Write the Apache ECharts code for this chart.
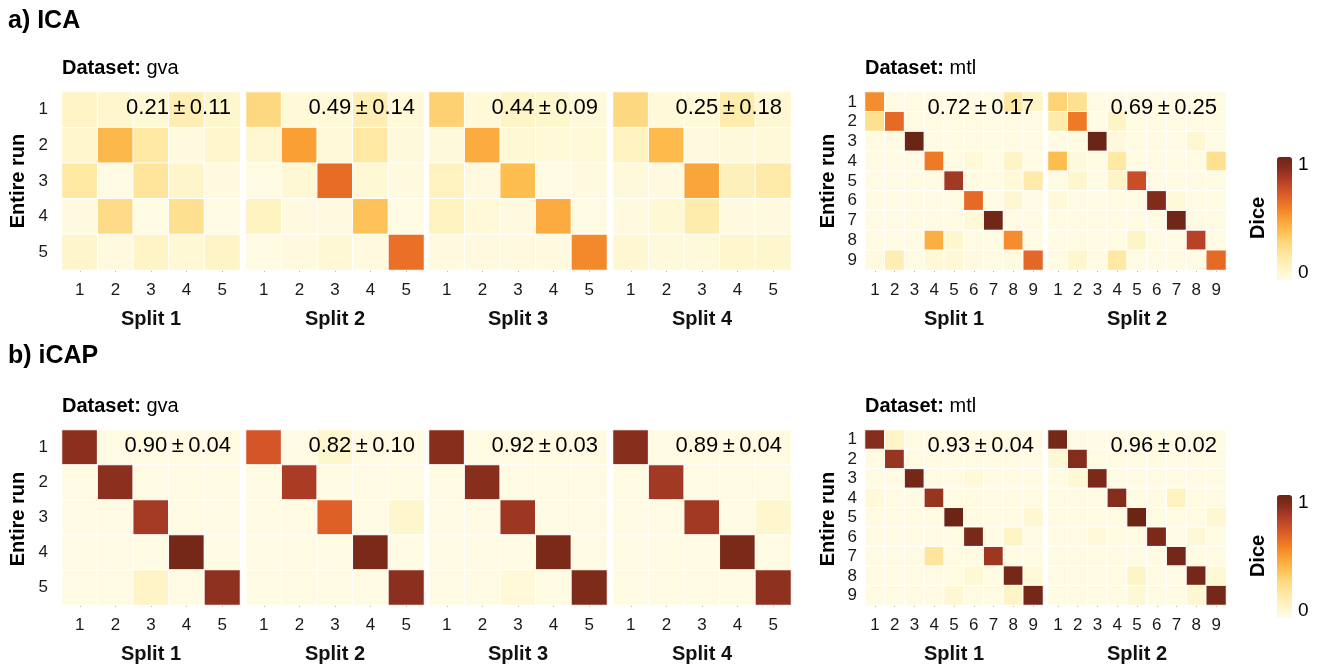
<!DOCTYPE html>
<html><head><meta charset="utf-8">
<script src="https://cdn.jsdelivr.net/npm/echarts@6/dist/echarts.min.js"></script>
<style>html,body{margin:0;padding:0;background:#fff}#c{width:1317px;height:665px}</style>
</head><body><div id="c"></div>
<script>
// ---------- data ----------
const gvaTicks = ['1','2','3','4','5'];
const mtlTicks = ['1','2','3','4','5','6','7','8','9'];
const gvaSplitNames = ['Split 1','Split 2','Split 3','Split 4'];
const mtlSplitNames = ['Split 1','Split 2'];

const icaGva1 = [
 [0.10,0.08,0.06,0.15,0.08],
 [0.08,0.42,0.20,0.03,0.08],
 [0.20,0.02,0.22,0.09,0.03],
 [0.03,0.28,0.02,0.25,0.02],
 [0.09,0.03,0.10,0.06,0.10]];
const icaGva2 = [
 [0.30,0.05,0.05,0.15,0.05],
 [0.07,0.50,0.05,0.20,0.04],
 [0.02,0.06,0.64,0.06,0.03],
 [0.12,0.03,0.03,0.38,0.02],
 [0.02,0.03,0.06,0.03,0.63]];
const icaGva3 = [
 [0.33,0.05,0.10,0.08,0.04],
 [0.04,0.46,0.06,0.05,0.05],
 [0.12,0.03,0.40,0.02,0.03],
 [0.12,0.05,0.03,0.46,0.02],
 [0.03,0.03,0.03,0.03,0.56]];
const icaGva4 = [
 [0.30,0.05,0.05,0.17,0.07],
 [0.12,0.41,0.03,0.04,0.05],
 [0.04,0.03,0.48,0.13,0.18],
 [0.03,0.06,0.17,0.03,0.03],
 [0.07,0.04,0.04,0.08,0.08]];
const icaMtl1 = [
 [0.55,0.02,0.02,0.02,0.02,0.02,0.02,0.20,0.10],
 [0.25,0.65,0.02,0.02,0.02,0.02,0.02,0.02,0.02],
 [0.02,0.02,1.00,0.02,0.02,0.02,0.02,0.02,0.02],
 [0.02,0.02,0.02,0.60,0.02,0.05,0.02,0.10,0.02],
 [0.02,0.02,0.02,0.02,0.85,0.02,0.02,0.05,0.18],
 [0.02,0.02,0.02,0.02,0.02,0.65,0.02,0.07,0.02],
 [0.02,0.02,0.02,0.02,0.02,0.05,0.98,0.02,0.02],
 [0.02,0.02,0.02,0.45,0.08,0.02,0.02,0.55,0.02],
 [0.03,0.15,0.02,0.06,0.06,0.03,0.02,0.03,0.66]];
const icaMtl2 = [
 [0.32,0.25,0.02,0.02,0.02,0.02,0.02,0.02,0.02],
 [0.18,0.60,0.02,0.10,0.02,0.02,0.02,0.02,0.02],
 [0.02,0.02,1.00,0.04,0.02,0.02,0.02,0.07,0.02],
 [0.40,0.04,0.02,0.20,0.02,0.02,0.02,0.02,0.25],
 [0.02,0.08,0.02,0.10,0.75,0.02,0.02,0.02,0.02],
 [0.05,0.02,0.02,0.02,0.02,0.93,0.05,0.02,0.02],
 [0.02,0.02,0.02,0.02,0.02,0.02,0.98,0.02,0.02],
 [0.02,0.02,0.02,0.02,0.10,0.02,0.02,0.80,0.02],
 [0.02,0.08,0.02,0.20,0.02,0.02,0.02,0.02,0.65]];
const icapGva1 = [
 [0.90,0.02,0.02,0.02,0.02],
 [0.02,0.90,0.02,0.02,0.02],
 [0.02,0.02,0.84,0.02,0.02],
 [0.02,0.02,0.02,0.97,0.02],
 [0.02,0.02,0.10,0.02,0.89]];
const icapGva2 = [
 [0.72,0.02,0.08,0.02,0.02],
 [0.02,0.83,0.02,0.02,0.02],
 [0.02,0.02,0.68,0.02,0.08],
 [0.02,0.02,0.02,0.95,0.02],
 [0.02,0.02,0.02,0.02,0.90]];
const icapGva3 = [
 [0.91,0.02,0.02,0.02,0.02],
 [0.02,0.91,0.02,0.02,0.02],
 [0.02,0.02,0.86,0.02,0.02],
 [0.02,0.02,0.02,0.95,0.02],
 [0.02,0.02,0.05,0.02,0.94]];
const icapGva4 = [
 [0.91,0.02,0.02,0.02,0.02],
 [0.02,0.85,0.02,0.02,0.02],
 [0.02,0.02,0.85,0.02,0.08],
 [0.02,0.02,0.02,0.95,0.02],
 [0.02,0.02,0.02,0.02,0.89]];
const icapMtl1 = [
 [0.92,0.10,0.02,0.02,0.02,0.02,0.02,0.02,0.02],
 [0.02,0.87,0.02,0.02,0.02,0.02,0.02,0.02,0.02],
 [0.02,0.02,0.97,0.02,0.02,0.05,0.02,0.02,0.02],
 [0.05,0.02,0.02,0.87,0.02,0.02,0.02,0.02,0.02],
 [0.02,0.02,0.02,0.02,1.00,0.02,0.02,0.02,0.07],
 [0.02,0.02,0.02,0.02,0.02,0.96,0.02,0.10,0.02],
 [0.02,0.02,0.02,0.22,0.02,0.02,0.86,0.02,0.02],
 [0.02,0.02,0.02,0.02,0.02,0.06,0.02,0.97,0.05],
 [0.02,0.02,0.02,0.02,0.07,0.02,0.02,0.10,0.97]];
const icapMtl2 = [
 [0.97,0.02,0.02,0.02,0.02,0.02,0.02,0.02,0.02],
 [0.06,0.92,0.02,0.02,0.02,0.02,0.02,0.02,0.02],
 [0.02,0.06,0.95,0.02,0.02,0.02,0.02,0.02,0.02],
 [0.02,0.02,0.02,0.92,0.02,0.02,0.12,0.02,0.02],
 [0.02,0.02,0.02,0.02,1.00,0.02,0.02,0.02,0.07],
 [0.02,0.02,0.05,0.02,0.02,0.95,0.02,0.06,0.02],
 [0.02,0.02,0.02,0.02,0.02,0.02,0.97,0.02,0.02],
 [0.02,0.02,0.02,0.02,0.10,0.02,0.02,0.97,0.06],
 [0.02,0.02,0.02,0.02,0.06,0.02,0.02,0.07,0.97]];

const icaGvaStats  = ['0.21 ± 0.11','0.49 ± 0.14','0.44 ± 0.09','0.25 ± 0.18'];
const icaMtlStats  = ['0.72 ± 0.17','0.69 ± 0.25'];
const icapGvaStats = ['0.90 ± 0.04','0.82 ± 0.10','0.92 ± 0.03','0.89 ± 0.04'];
const icapMtlStats = ['0.93 ± 0.04','0.96 ± 0.02'];
const colorbarTicks = ['1','0'];

// ---------- layout ----------
const FONT = '"Liberation Sans", Arial, Helvetica, sans-serif';
const palette = ['#FFFDE9','#FEF4C6','#FEE8A2','#FDD880','#FDBE4F','#F99F34','#EF7A25','#DB5A27','#B74228','#8B2F1E','#6B2515'];
const gvaLefts = [62, 246, 429, 613];
const mtlLefts = [865, 1048];
const rowTops = [92, 430];
const SIZE = 178;

const grids = [], xAxes = [], yAxes = [], series = [], graphics = [];
const rowSeries = [[], []];

function addPanel(row, left, ticks, matrix, splitName, showY, stat, yLabelMargin) {
  const idx = grids.length;
  const top = rowTops[row];
  grids.push({left: left, top: top, width: SIZE, height: SIZE});
  xAxes.push({
    type: 'category', gridIndex: idx, data: ticks, position: 'bottom',
    axisLine: {show: false}, splitLine: {show: false},
    axisTick: {show: true, alignWithLabel: true, interval: 0, length: 2, lineStyle: {color: '#bbb'}},
    axisLabel: {interval: 0, fontSize: 17, color: '#1a1a1a', margin: 12, fontFamily: FONT},
    name: splitName, nameLocation: 'middle', nameGap: 39,
    nameTextStyle: {fontSize: 20, fontWeight: 'bold', color: '#111', fontFamily: FONT}
  });
  yAxes.push({
    type: 'category', gridIndex: idx, data: ticks, inverse: true,
    axisLine: {show: false}, axisTick: {show: false}, splitLine: {show: false},
    axisLabel: {show: showY, interval: 0, fontSize: 17, color: '#1a1a1a', margin: yLabelMargin, fontFamily: FONT}
  });
  const data = [];
  matrix.forEach((r, ri) => r.forEach((v, ci) => data.push([ci, ri, v])));
  rowSeries[row].push(series.length);
  series.push({
    type: 'heatmap', xAxisIndex: idx, yAxisIndex: idx, data: data,
    itemStyle: {borderColor: '#ffffff', borderWidth: 1},
    emphasis: {disabled: true}, label: {show: false}
  });
  graphics.push({
    type: 'text', x: left + SIZE - 9, y: top + 16, silent: true, z: 100,
    style: {text: stat.replace(' ± ', '\u2009±\u2009'), font: '22px ' + FONT, fill: '#000',
            textAlign: 'right', textVerticalAlign: 'middle'}
  });
}

const icaGva = [icaGva1, icaGva2, icaGva3, icaGva4];
const icaMtl = [icaMtl1, icaMtl2];
const icapGva = [icapGva1, icapGva2, icapGva3, icapGva4];
const icapMtl = [icapMtl1, icapMtl2];

icaGva.forEach((m, i) => addPanel(0, gvaLefts[i], gvaTicks, m, gvaSplitNames[i], i === 0, icaGvaStats[i], 14));
icaMtl.forEach((m, i) => addPanel(0, mtlLefts[i], mtlTicks, m, mtlSplitNames[i], i === 0, icaMtlStats[i], 8));
icapGva.forEach((m, i) => addPanel(1, gvaLefts[i], gvaTicks, m, gvaSplitNames[i], i === 0, icapGvaStats[i], 14));
icapMtl.forEach((m, i) => addPanel(1, mtlLefts[i], mtlTicks, m, mtlSplitNames[i], i === 0, icapMtlStats[i], 8));

const panelTitles = ['a) ICA', 'b) iCAP'];
const titleYs = [21, 356];
[0, 1].forEach(row => {
  const top = rowTops[row];
  graphics.push({type: 'text', x: 8, y: titleYs[row], silent: true,
    style: {text: panelTitles[row], font: 'bold 25px ' + FONT, fill: '#000', textVerticalAlign: 'middle'}});
  graphics.push({type: 'text', x: 62, y: top - 24, silent: true,
    style: {text: '{b|Dataset:} gva', font: '20px ' + FONT, fill: '#000', textVerticalAlign: 'middle',
            rich: {b: {fontWeight: 'bold', fontSize: 20, fontFamily: FONT, fill: '#000'}}}});
  graphics.push({type: 'text', x: 865, y: top - 24, silent: true,
    style: {text: '{b|Dataset:} mtl', font: '20px ' + FONT, fill: '#000', textVerticalAlign: 'middle',
            rich: {b: {fontWeight: 'bold', fontSize: 20, fontFamily: FONT, fill: '#000'}}}});
  [18, 828].forEach(x => graphics.push({type: 'text', x: x, y: top + SIZE / 2, rotation: Math.PI / 2, silent: true,
    style: {text: 'Entire run', font: 'bold 20px ' + FONT, fill: '#000', textAlign: 'center', textVerticalAlign: 'middle'}}));
  const cbTop = top + 65;
  graphics.push({type: 'text', x: 1258, y: cbTop + 61, rotation: Math.PI / 2, silent: true,
    style: {text: 'Dice', font: 'bold 20px ' + FONT, fill: '#000', textAlign: 'center', textVerticalAlign: 'middle'}});
  graphics.push({type: 'text', x: 1298, y: cbTop + 8, silent: true,
    style: {text: colorbarTicks[0], font: '19px ' + FONT, fill: '#000', textVerticalAlign: 'middle'}});
  graphics.push({type: 'text', x: 1298, y: cbTop + 116, silent: true,
    style: {text: colorbarTicks[1], font: '19px ' + FONT, fill: '#000', textVerticalAlign: 'middle'}});
});

const visualMaps = [0, 1].map(row => ({
  type: 'continuous', min: 0, max: 1, seriesIndex: rowSeries[row],
  calculable: false, realtime: false, orient: 'vertical',
  left: 1277, top: rowTops[row] + 65, itemWidth: 15, itemHeight: 123, padding: 0,
  text: null, showLabel: false, hoverLink: false,
  inRange: {color: palette}
}));

const chart = echarts.init(document.getElementById('c'), null, {renderer: 'canvas'});
chart.setOption({
  backgroundColor: '#ffffff', animation: false,
  textStyle: {fontFamily: FONT},
  grid: grids, xAxis: xAxes, yAxis: yAxes, series: series,
  visualMap: visualMaps, graphic: graphics
});
</script></body></html>
